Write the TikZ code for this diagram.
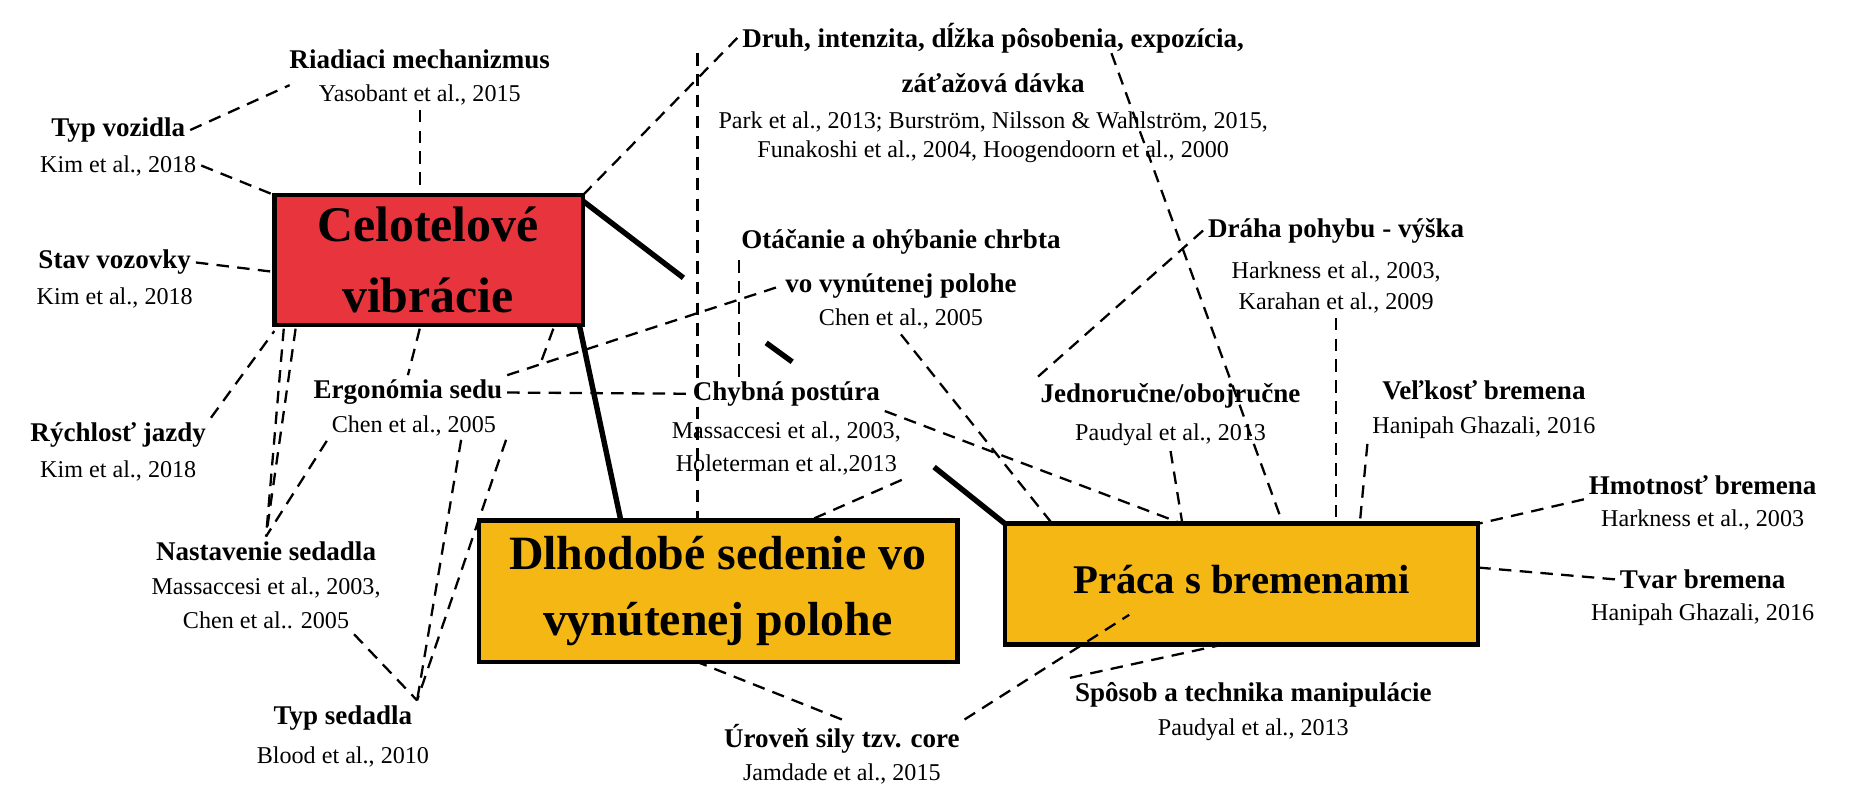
\documentclass[tikz,border=0pt]{standalone}
\usepackage{fontspec}
\setmainfont{Liberation Serif}
\begin{document}
\begin{tikzpicture}[x=0.01cm,y=-0.01cm,
 lab/.style={font=\fontsize{6.5}{8}\selectfont\bfseries,inner sep=1pt},
 ref/.style={font=\fontsize{5.8}{6.5}\selectfont,inner sep=1pt},
 dl/.style={line width=0.55pt,dash pattern=on 3pt off 2pt},
 sl/.style={line width=1.3pt}]
\useasboundingbox (0,0) rectangle (1568,677);
% boxes
\path[draw,line width=1.1pt,fill={rgb,255:red,232;green,52;blue,60}] (232,165) rectangle (493,275);
\node[font=\fontsize{12}{17}\selectfont\bfseries,align=center] (celt) at (362,220) {Celotelové\\vibrácie};
\path[draw,line width=1.1pt,fill={rgb,255:red,245;green,183;blue,20}] (405,440) rectangle (810,560);
\node[font=\fontsize{11.5}{16}\selectfont\bfseries,align=center] (dl) at (607,500) {Dlhodobé sedenie vo\\vynútenej polohe};
\path[draw,line width=1.1pt,fill={rgb,255:red,245;green,183;blue,20}] (850,443) rectangle (1250,545);
\node[font=\fontsize{9.8}{12}\selectfont\bfseries] (pr) at (1050,490) {Práca s bremenami};
% labels
\node[lab] (ria) at (355,50) {Riadiaci mechanizmus};
\node[ref] (riar) at (355,80) {Yasobant et al., 2015};
\node[lab] (typ) at (100,110) {Typ vozidla};
\node[ref] (typr) at (100,140) {Kim et al., 2018};
\node[lab] (sta) at (97,222) {Stav vozovky};
\node[ref] (star) at (97,252) {Kim et al., 2018};
\node[lab] (ryc) at (100,368) {Rýchlosť jazdy};
\node[ref] (rycr) at (100,398) {Kim et al., 2018};
\node[lab] (erg) at (345,332) {Ergonómia sedu};
\node[ref] (ergr) at (350,360) {Chen et al., 2005};
\node[lab] (nas) at (225,466) {Nastavenie sedadla};
\node[ref] (nasr) at (225,497) {Massaccesi et al., 2003,};
\node[ref] (nasr2) at (225,525) {Chen et al.. 2005};
\node[lab] (tys) at (290,607) {Typ sedadla};
\node[ref] (tysr) at (290,640) {Blood et al., 2010};
\node[lab] (dru) at (840,32) {Druh, intenzita, dĺžka pôsobenia, expozícia,};
\node[lab] (dru2) at (840,70) {záťažová dávka};
\node[ref] (drur) at (840,103) {Park et al., 2013; Burström, Nilsson \& Wahlström, 2015,};
\node[ref] (drur2) at (840,128) {Funakoshi et al., 2004, Hoogendoorn et al., 2000};
\node[lab] (ota) at (762,205) {Otáčanie a ohýbanie chrbta};
\node[lab] (ota2) at (762,242) {vo vynútenej polohe};
\node[ref] (otar) at (762,270) {Chen et al., 2005};
\node[lab] (chy) at (665,333) {Chybná postúra};
\node[ref] (chyr) at (665,365) {Massaccesi et al., 2003,};
\node[ref] (chyr2) at (665,393) {Holeterman et al.,2013};
\node[lab] (dra) at (1130,195) {Dráha pohybu - výška};
\node[ref] (drar) at (1130,230) {Harkness et al., 2003,};
\node[ref] (drar2) at (1130,256) {Karahan et al., 2009};
\node[lab] (jed) at (990,335) {Jednoručne/obojručne};
\node[ref] (jedr) at (990,368) {Paudyal et al., 2013};
\node[lab] (vel) at (1255,330) {Veľkosť bremena};
\node[ref] (velr) at (1255,362) {Hanipah Ghazali, 2016};
\node[lab] (hmo) at (1440,410) {Hmotnosť bremena};
\node[ref] (hmor) at (1440,440) {Harkness et al., 2003};
\node[lab] (tva) at (1440,490) {Tvar bremena};
\node[ref] (tvar) at (1440,520) {Hanipah Ghazali, 2016};
\node[lab] (spo) at (1060,588) {Spôsob a technika manipulácie};
\node[ref] (spor) at (1060,617) {Paudyal et al., 2013};
\node[lab] (uro) at (712,625) {Úroveň sily tzv. core};
\node[ref] (uror) at (712,655) {Jamdade et al., 2015};
% coordinates on boxes
\coordinate (cTL) at (232,165); \coordinate (cTR) at (493,165);
\coordinate (cL) at (232,230); \coordinate (cBL) at (232,280);
\coordinate (cB1) at (250,278); \coordinate (cB2) at (355,278); \coordinate (cB3) at (468,278);
\coordinate (cT) at (355,165);
\coordinate (dT1) at (590,440); \coordinate (dT2) at (685,440); \coordinate (dB) at (590,560);
\coordinate (pT1) at (890,443); \coordinate (pT2) at (1000,443); \coordinate (pT3) at (1085,443);
\coordinate (pT4) at (1130,443); \coordinate (pT5) at (1150,443); \coordinate (pR1) at (1250,443);
\coordinate (pR2) at (1250,480); \coordinate (pB) at (1035,545); \coordinate (pBL) at (955,520);
% dashed
\draw[dl] (typ.east) -- (245,72);
\draw[dl] (typr.east) -- (cTL);
\draw[dl] (riar.south) -- (cT);
\draw[dl] (sta.east) -- (cL);
\draw[dl] (ryc.north east) -- (cBL);
\draw[dl] (cB1) -- (nas.north);
\draw[dl] (240,278) -- (nas.north);
\draw[dl] (ergr.south west) -- (nas.north);
\draw[dl] (cB2) -- (erg.north);
\draw[dl] (390,372) -- (tys.north east);
\draw[dl] (428,372) -- (tys.north east);
\draw[dl] (nasr2.south east) -- (tys.north east);
\draw[dl] (cB3) -- (458,305);
\draw[dl] (erg.east) -- (chy.west);
\draw[dl] (erg.north east) -- (ota2.west);
\draw[dl] (cTR) -- (dru.west);
\draw[dl] (590,45) -- (dT1);
\draw[dl] (625,220) -- (625,320);
\draw[dl] (chyr2.south east) -- (dT2);
\draw[dl] (940,45) -- (pT3);
\draw[dl] (otar.south) -- (pT1);
\draw[dl] (chy.south east) -- (pT2);
\draw[dl] (dra.west) -- (jed.north west);
\draw[dl] (jedr.south) -- (pT2);
\draw[dl] (drar2.south) -- (pT4);
\draw[dl] (velr.south west) -- (pT5);
\draw[dl] (hmo.south west) -- (pR1);
\draw[dl] (tva.west) -- (pR2);
\draw[dl] (spo.north west) -- (pB);
\draw[dl] (uro.north) -- (dB);
\draw[dl] (uro.north east) -- (pBL);
% solid
\draw[sl] (493,170) -- (578,235);
\draw[sl] (648,290) -- (670,306);
\draw[sl] (790,395) -- (850,443);
\draw[sl] (490,275) -- (525,440);
\end{tikzpicture}
\end{document}
